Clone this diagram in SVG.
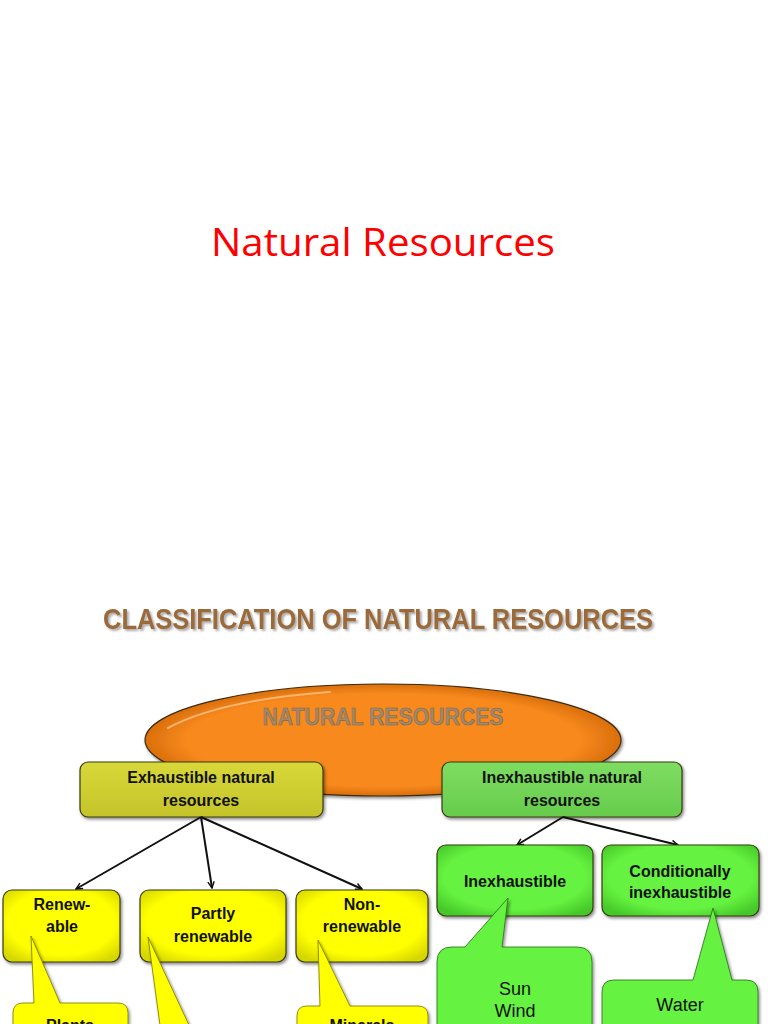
<svg xmlns="http://www.w3.org/2000/svg" width="768" height="1024" viewBox="0 0 768 1024">
<defs>
<style>
.t{font-family:"Liberation Sans",Arial,sans-serif;font-weight:bold;font-size:16px;fill:#111;text-anchor:middle}
.c{font-family:"Liberation Sans",Arial,sans-serif;font-size:18px;fill:#111;text-anchor:middle}
.box{stroke:#3a3a10;stroke-width:1.2}
.yel{fill:url(#gy)}
.grn{fill:url(#gg)}
.edge{stroke:#111;stroke-width:2;fill:none;marker-end:url(#ah)}
</style>
<marker id="ah" viewBox="0 0 10 10" refX="9" refY="5" markerWidth="8" markerHeight="8" orient="auto-start-reverse" markerUnits="userSpaceOnUse">
<path d="M1 1 L9 5 L1 9" fill="none" stroke="#111" stroke-width="1.8"/>
</marker>
<filter id="sh" x="-10%" y="-10%" width="130%" height="140%">
<feDropShadow dx="1.5" dy="2" stdDeviation="1.5" flood-color="#000" flood-opacity="0.45"/>
</filter>
<filter id="tsh" x="-5%" y="-20%" width="110%" height="150%">
<feDropShadow dx="2" dy="2" stdDeviation="1" flood-color="#888" flood-opacity="0.7"/>
</filter>
<radialGradient id="gy" cx="50%" cy="45%" r="65%">
<stop offset="0.7" stop-color="#FFFF00"/>
<stop offset="1" stop-color="#D6D600"/>
</radialGradient>
<radialGradient id="gg" cx="50%" cy="45%" r="65%">
<stop offset="0.7" stop-color="#66F23F"/>
<stop offset="1" stop-color="#45C82A"/>
</radialGradient>
<radialGradient id="go" cx="50%" cy="50%" r="55%">
<stop offset="0.75" stop-color="#F8891E"/>
<stop offset="1" stop-color="#C86000"/>
</radialGradient>
<linearGradient id="gex" x1="0" y1="0" x2="0" y2="1">
<stop offset="0" stop-color="#D8D83A"/>
<stop offset="1" stop-color="#C4C42A"/>
</linearGradient>
<linearGradient id="gin" x1="0" y1="0" x2="0" y2="1">
<stop offset="0" stop-color="#7EDD62"/>
<stop offset="1" stop-color="#66CC4C"/>
</linearGradient>
</defs>
<rect width="768" height="1024" fill="#fff"/>

<text x="383" y="256" font-family="'Open Sans','Liberation Sans',sans-serif" font-size="38" fill="#FF0000" text-anchor="middle" textLength="344" lengthAdjust="spacingAndGlyphs">Natural Resources</text>

<text x="378" y="629" font-family="'Liberation Sans',Arial,sans-serif" font-weight="bold" font-size="30" fill="#9B6A38" text-anchor="middle" textLength="550" lengthAdjust="spacingAndGlyphs" filter="url(#tsh)">CLASSIFICATION OF NATURAL RESOURCES</text>

<g id="root">
<ellipse cx="383" cy="740" rx="238" ry="56" fill="url(#go)" stroke="#3a2a10" stroke-width="1.2" filter="url(#sh)"/>
<path d="M168 728 Q220 700 330 692" fill="none" stroke="#FFD9A8" stroke-width="2" stroke-linecap="round" opacity="0.6"/>
<text x="383" y="725" font-family="'Liberation Sans',Arial,sans-serif" font-weight="bold" font-size="23" fill="#A48868" stroke="#7d6a52" stroke-width="0.6" text-anchor="middle" textLength="241" lengthAdjust="spacingAndGlyphs">NATURAL RESOURCES</text>
</g>

<g id="exhaustible">
<rect x="80" y="762" width="243" height="55" rx="8" fill="url(#gex)" class="box" filter="url(#sh)"/>
<text class="t" x="201" y="783">Exhaustible natural</text>
<text class="t" x="201" y="806">resources</text>
</g>

<g id="inexhaustible-natural">
<rect x="442" y="762" width="240" height="55" rx="8" fill="url(#gin)" class="box" stroke="#2a4a1a" filter="url(#sh)"/>
<text class="t" x="562" y="783">Inexhaustible natural</text>
<text class="t" x="562" y="806">resources</text>
</g>

<g id="connectors">
<line class="edge" x1="201" y1="817" x2="76" y2="889"/>
<line class="edge" x1="201" y1="817" x2="212" y2="888"/>
<line class="edge" x1="201" y1="817" x2="362" y2="889"/>
<line class="edge" x1="563" y1="817" x2="517" y2="845"/>
<line class="edge" x1="563" y1="817" x2="678" y2="845"/>
</g>

<g id="renewable">
<rect x="3" y="890" width="117" height="72" rx="9" class="box yel" filter="url(#sh)"/>
<text class="t" x="62" y="910">Renew-</text>
<text class="t" x="62" y="932">able</text>
</g>

<g id="partly-renewable">
<rect x="140" y="890" width="146" height="72" rx="9" class="box yel" filter="url(#sh)"/>
<text class="t" x="213" y="919">Partly</text>
<text class="t" x="213" y="942">renewable</text>
</g>

<g id="non-renewable">
<rect x="296" y="890" width="132" height="72" rx="9" class="box yel" filter="url(#sh)"/>
<text class="t" x="362" y="910">Non-</text>
<text class="t" x="362" y="932">renewable</text>
</g>

<g id="inexhaustible">
<rect x="437" y="845" width="156" height="71" rx="9" class="box grn" stroke="#2a4a1a" filter="url(#sh)"/>
<text class="t" x="515" y="887">Inexhaustible</text>
</g>

<g id="conditionally">
<rect x="602" y="845" width="157" height="71" rx="9" class="box grn" stroke="#2a4a1a" filter="url(#sh)"/>
<text class="t" x="680" y="877">Conditionally</text>
<text class="t" x="680" y="898">inexhaustible</text>
</g>

<g id="plants">
<path d="M13 1013 Q13 1003 23 1003 L34 1003 L31 936 L60 1003 L118 1003 Q128 1003 128 1013 L128 1040 L13 1040 Z" fill="#FFFF00" stroke="#777700" stroke-width="0.8" filter="url(#sh)"/>
<text class="t" x="70" y="1031">Plants</text>
</g>

<g id="partly-callout">
<path d="M148 937 L196 1040 L162 1040 Z" fill="#FFFF00" stroke="#777700" stroke-width="0.8" filter="url(#sh)"/>
</g>

<g id="minerals">
<path d="M297 1016 Q297 1006 307 1006 L320 1006 L318 940 L350 1006 L418 1006 Q428 1006 428 1016 L428 1040 L297 1040 Z" fill="#FFFF00" stroke="#777700" stroke-width="0.8" filter="url(#sh)"/>
<text class="t" x="362" y="1031">Minerals</text>
</g>

<g id="sun-wind">
<path d="M437 962 Q437 947 452 947 L465 947 L508 898 L502 947 L577 947 Q592 947 592 962 L592 1040 L437 1040 Z" fill="#66F23F" stroke="#2a6a1a" stroke-width="0.8" filter="url(#sh)"/>
<text class="c" x="515" y="995">Sun</text>
<text class="c" x="515" y="1017">Wind</text>
</g>

<g id="water">
<path d="M602 992 Q602 980 614 980 L693 980 L713 908 L732 980 L746 980 Q758 980 758 992 L758 1040 L602 1040 Z" fill="#66F23F" stroke="#2a6a1a" stroke-width="0.8" filter="url(#sh)"/>
<text class="c" x="680" y="1011" font-size="21">Water</text>
</g>
</svg>
